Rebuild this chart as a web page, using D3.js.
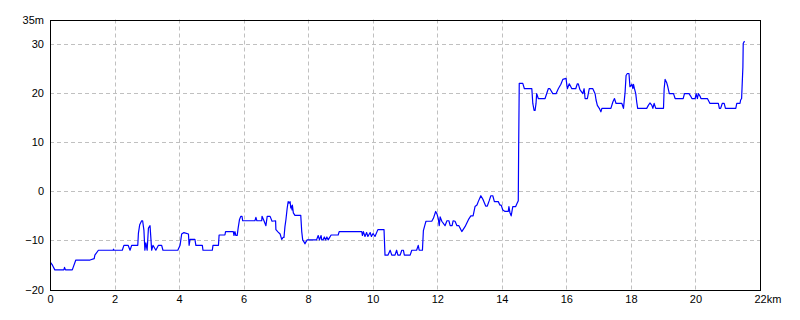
<!DOCTYPE html>
<html>
<head>
<meta charset="utf-8">
<script src="https://cdn.jsdelivr.net/npm/d3@7"></script>
<style>
  body { margin: 0; background: #fff; }
  text { font-family: "MS Gothic", "Liberation Sans", sans-serif; font-size: 11px; fill: #000; }
</style>
</head>
<body>
<svg id="profile"></svg>
<script>
const width = 800, height = 320
const margin = {top: 19, right: 40, bottom: 30, left: 50}

// distance (km) and elevation (m)
const distance = [0.02, 0.08, 0.15, 0.43, 0.45, 0.48, 0.69, 0.80, 1.24, 1.37, 1.39, 1.50, 1.95, 1.97, 1.98,
    2.24, 2.29, 2.42, 2.48, 2.53, 2.72, 2.74, 2.78, 2.84, 2.87, 2.91, 2.94, 2.97, 3.01, 3.05, 3.10, 3.13,
    3.15, 3.19, 3.28, 3.36, 3.46, 3.50, 3.96, 4.03, 4.08, 4.15, 4.29, 4.31, 4.34, 4.49, 4.52, 4.72, 4.74,
    5.03, 5.05, 5.22, 5.24, 5.42, 5.44, 5.68, 5.70, 5.73, 5.76, 5.80, 5.83, 5.87, 5.91, 5.95, 5.97, 6.35,
    6.38, 6.41, 6.56, 6.57, 6.63, 6.66, 6.69, 6.73, 6.82, 6.88, 6.99, 7.00, 7.07, 7.13, 7.18, 7.22, 7.25,
    7.28, 7.31, 7.35, 7.38, 7.41, 7.44, 7.46, 7.48, 7.50, 7.51, 7.54, 7.59, 7.77, 7.80, 7.83, 7.87, 7.90,
    7.93, 7.97, 8.26, 8.31, 8.35, 8.40, 8.42, 8.46, 8.50, 8.54, 8.58, 8.62, 8.71, 8.93, 8.96, 9.66, 9.68,
    9.71, 9.76, 9.81, 9.85, 9.92, 9.96, 10.01, 10.07, 10.16, 10.35, 10.38, 10.47, 10.54, 10.59, 10.69,
    10.74, 10.78, 10.85, 10.90, 10.95, 10.98, 11.16, 11.21, 11.36, 11.41, 11.44, 11.54, 11.57, 11.62,
    11.65, 11.83, 11.88, 11.95, 11.99, 12.03, 12.06, 12.09, 12.14, 12.24, 12.30, 12.36, 12.40, 12.46,
    12.49, 12.55, 12.61, 12.67, 12.76, 12.86, 12.98, 13.04, 13.11, 13.17, 13.23, 13.27, 13.35, 13.42,
    13.50, 13.55, 13.61, 13.66, 13.72, 13.77, 13.89, 13.94, 13.98, 14.03, 14.10, 14.20, 14.22, 14.25,
    14.29, 14.34, 14.43, 14.47, 14.51, 14.52, 14.54, 14.65, 14.70, 14.93, 14.94, 14.96, 15.00, 15.03,
    15.06, 15.08, 15.13, 15.34, 15.44, 15.49, 15.58, 15.68, 15.75, 15.83, 15.89, 15.99, 16.03, 16.09,
    16.17, 16.29, 16.34, 16.37, 16.42, 16.51, 16.55, 16.58, 16.65, 16.71, 16.82, 16.89, 16.92, 16.96,
    17.02, 17.07, 17.10, 17.38, 17.44, 17.49, 17.54, 17.72, 17.77, 17.82, 17.85, 17.89, 17.94, 17.97,
    18.03, 18.06, 18.08, 18.11, 18.15, 18.18, 18.21, 18.49, 18.54, 18.59, 18.65, 18.68, 18.72, 18.77,
    19.01, 19.03, 19.06, 19.11, 19.14, 19.19, 19.32, 19.37, 19.62, 19.66, 19.80, 19.85, 19.89, 19.99,
    20.02, 20.06, 20.09, 20.14, 20.17, 20.37, 20.45, 20.71, 20.74, 20.78, 20.83, 20.89, 20.93, 21.25,
    21.28, 21.38, 21.40, 21.43, 21.47, 21.48, 21.52]

const elevation = [-14.5, -15.1, -16, -16, -15.5, -16, -16, -14, -14, -13.7, -13, -12, -12, -11.8, -12,
    -12, -11, -11, -12, -11, -11, -8.5, -6.8, -6, -6, -7.9, -12, -10.5, -12, -7.5, -7, -10,
    -12, -11, -12, -11, -11, -12, -12, -11, -8.7, -8.4, -8.7, -11, -9.8, -9.8, -11, -11, -12,
    -12, -11, -11, -8.9, -8.9, -8.2, -8.2, -9, -8.2, -9, -9, -7.5, -5.8, -5.1, -5.1, -6, -6,
    -5.3, -6, -6, -5.1, -6, -6.5, -7, -5.1, -5.1, -6.1, -6, -7.8, -8.3, -8.7, -9.8, -9.4, -9.4,
    -7.2, -5.8, -3.4, -2.1, -2.4, -2.1, -3.4, -3, -3.8, -2.8, -4.4, -4.9, -4.9, -8.2, -9.9, -10.3, -10.7,
    -10.3, -9.9, -9.9, -9, -9.9, -9, -9.9, -9.9, -9.3, -9.9, -9.3, -9.9, -8.9, -8.9, -8.2, -8.2, -9,
    -8.2, -9.2, -8.4, -9.2, -8.4, -9.2, -8.6, -9.2, -7.8, -7.8, -13, -13, -12, -13, -13,
    -12, -13, -13, -12, -12, -13, -13, -12, -12, -11, -12, -12, -8, -6.8,
    -6.1, -6.1, -5.5, -4.1, -4.6, -5.5, -7, -5.2, -6.1, -7, -6, -6, -7, -7,
    -6, -6.1, -7, -7, -8.2, -7.2, -5.6, -5, -5, -3.1, -2.8, -2.1, -0.9, -1.7,
    -3, -3, -1.9, -0.9, -0.9, -2.1, -2.1, -2.8, -2.8, -3.8, -4.1, -4.1, -3.1, -4.3,
    -5, -3.1, -3.1, -2.5, -1.9, 7.4, 22, 22, 20.9, 20.9, 19.9, 17.9, 16.5, 16.5,
    17.9, 19.9, 18.9, 18.9, 20.9, 20.9, 19.9, 19.9, 20.9, 21.8, 22.8, 23, 20.9, 21.9,
    20.9, 20.9, 21.9, 21.9, 20.7, 19.9, 20.9, 18.9, 18.9, 20.9, 20.9, 19.9, 18.6, 17.5,
    16.9, 16.2, 16.9, 16.9, 18.2, 18.9, 17.9, 17.9, 16.9, 20.2, 23.6, 24, 24, 21.3,
    21.8, 20.9, 21.8, 20.9, 19.9, 18.2, 16.9, 16.9, 17.5, 18, 17.5, 16.9, 17.9, 16.9,
    16.9, 20.9, 22.8, 22.1, 21.4, 19.9, 19.9, 18.9, 18.9, 19.9, 19.9, 19.4, 18.9, 18.9,
    19.9, 18.9, 19.9, 19.4, 18.9, 18.9, 17.9, 17.9, 16.9, 16.9, 17.9, 17.9, 16.9, 16.9,
    17.9, 17.9, 18.6, 18.9, 25.3, 30.1, 30.6]

const xTicks = [0, 2, 4, 6, 8, 10, 12, 14, 16, 18, 20, 22]
const yTicks = [-20, -10, 0, 10, 20, 30, 35]

const svg = d3.select("svg#profile")
    .attr("width", width)
    .attr("height", height)
    .attr("viewBox", [0, 0, width, height])

const x = d3.scaleLinear()
    .domain([0, 22])
    .range([margin.left, width - margin.right])

const y = d3.scaleLinear()
    .domain([-20, 35])
    .range([height - margin.bottom - 0.5, margin.top + 0.5])

// grid
svg.append("g")
    .selectAll("line")
    .data(xTicks.filter(d => d > 0 && d < 22))
    .enter().append("line")
    .attr("x1", d => Math.round(x(d)) + 0.5)
    .attr("x2", d => Math.round(x(d)) + 0.5)
    .attr("y1", y(35))
    .attr("y2", y(-20))
    .attr("stroke", "#c0c0c0")
    .attr("stroke-dasharray", "4,3")

svg.append("g")
    .selectAll("line")
    .data(yTicks.filter(d => d > -20 && d < 35))
    .enter().append("line")
    .attr("x1", x(0))
    .attr("x2", x(22))
    .attr("y1", d => Math.round(y(d)) + 0.5)
    .attr("y2", d => Math.round(y(d)) + 0.5)
    .attr("stroke", "#c0c0c0")
    .attr("stroke-dasharray", "4,3")

// profile line
const line = d3.line()
    .x((d, i) => x(distance[i]))
    .y(d => y(d))

svg.append("path")
    .datum(elevation)
    .attr("d", line)
    .attr("fill", "none")
    .attr("stroke", "#0000ff")
    .attr("stroke-width", 1.2)
    .attr("stroke-linejoin", "round")

// frame
svg.append("rect")
    .attr("x", Math.round(x(0)) + 0.5)
    .attr("y", Math.round(y(35)) + 0.5)
    .attr("width", Math.round(x(22)) - Math.round(x(0)))
    .attr("height", Math.round(y(-20)) - Math.round(y(35)))
    .attr("fill", "none")
    .attr("stroke", "#000")

// axes
const yAxis = d3.axisLeft(y)
    .tickValues(yTicks)
    .tickSize(0)
    .tickPadding(6)
    .tickFormat(d => d === 35 ? "35m" : d < 0 ? "\u2212" + Math.abs(d) : d)

svg.append("g")
    .attr("transform", `translate(${x(0)},0)`)
    .call(yAxis)
    .call(g => g.select(".domain").remove())
    .selectAll("text")
    .attr("font-family", null)
    .attr("font-size", null)

const xAxis = d3.axisBottom(x)
    .tickValues(xTicks)
    .tickSize(0)
    .tickPadding(6)
    .tickFormat(d => d)

const xg = svg.append("g")
    .attr("transform", `translate(0,${y(-20)})`)
    .call(xAxis)
    .call(g => g.select(".domain").remove())

xg.selectAll("text")
    .attr("font-family", null)
    .attr("font-size", null)

// unit after the last x label
const last = xg.selectAll(".tick").filter(d => d === 22).select("text")
const w = last.node().getComputedTextLength()
xg.selectAll(".tick").filter(d => d === 22)
    .append("text")
    .attr("x", w / 2)
    .attr("y", last.attr("y"))
    .attr("dy", last.attr("dy"))
    .attr("text-anchor", "start")
    .text("km")
</script>
</body>
</html>
